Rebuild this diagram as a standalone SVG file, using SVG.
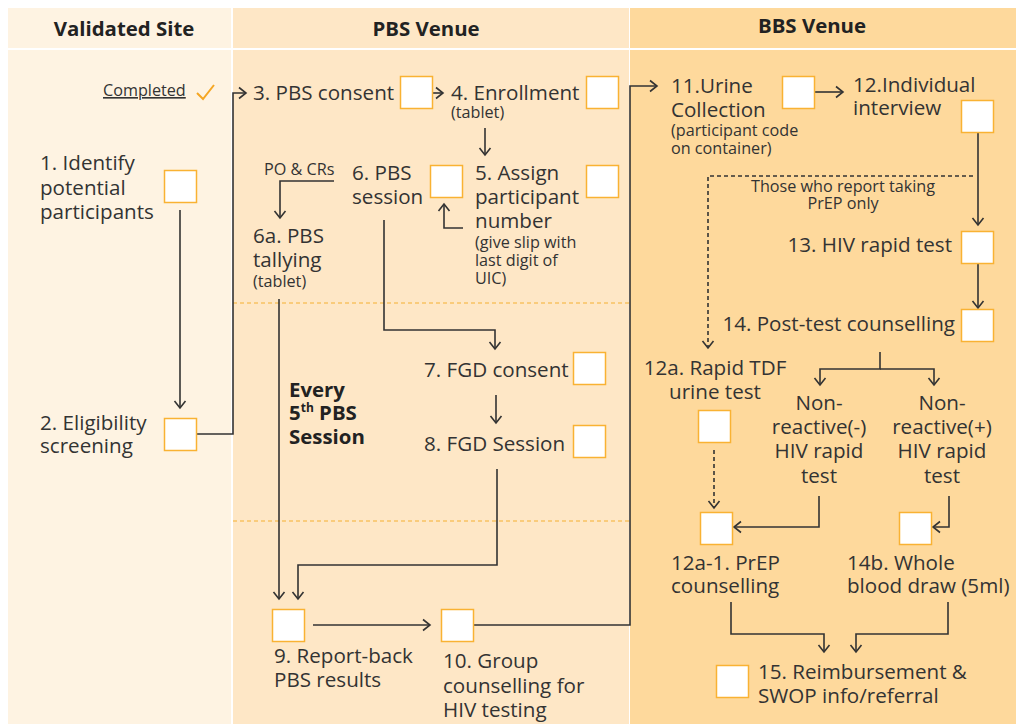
<svg xmlns="http://www.w3.org/2000/svg" width="1016" height="724" viewBox="0 0 1016 724">
<style>
text{font-family:"Open Sans","Noto Sans","Liberation Sans",sans-serif;fill:#333}
.t{font-size:20.6px}
.s{font-size:16.2px}
.h{font-size:20.4px;font-weight:bold;fill:#222}
.b{font-size:20.4px;font-weight:bold;fill:#222}
.box{fill:#fff;stroke:#f9b233;stroke-width:1.5}
.c{fill:none;stroke:#333;stroke-width:1.6}
.d{fill:none;stroke:#333;stroke-width:1.6;stroke-dasharray:4 3}
.sep{stroke:#f5b031;stroke-width:1;stroke-dasharray:4 3}
</style>
<defs>
<marker id="a" markerUnits="userSpaceOnUse" markerWidth="14" markerHeight="14" refX="10" refY="7" orient="auto">
<path d="M3,1.5 L10,7 L3,12.5" fill="none" stroke="#333" stroke-width="1.6"/>
</marker>
</defs>
<rect x="0" y="0" width="1016" height="724" fill="#fff"/>
<rect x="8" y="8" width="223" height="40" fill="#fef3e2"/>
<rect x="8" y="50" width="223" height="674" fill="#fef3e2"/>
<rect x="233" y="8" width="396" height="40" fill="#fee7c6"/>
<rect x="233" y="50" width="396" height="674" fill="#fee7c6"/>
<rect x="630" y="8" width="386" height="40" fill="#fed99c"/>
<rect x="630" y="50" width="386" height="674" fill="#fed99c"/>
<line class="sep" x1="233" y1="303" x2="629" y2="303"/>
<line class="sep" x1="233" y1="521" x2="629" y2="521"/>
<text class="h" x="124" y="36" text-anchor="middle">Validated Site</text>
<text class="h" x="426" y="36" text-anchor="middle">PBS Venue</text>
<text class="h" x="812" y="33" text-anchor="middle">BBS Venue</text>

<g id="connectors">
<path class="c" d="M180,210 V408" marker-end="url(#a)"/>
<path class="c" d="M197,434 H233 V93 H246" marker-end="url(#a)"/>
<path class="c" d="M432,93 H443" marker-end="url(#a)"/>
<path class="c" d="M485,128 V155" marker-end="url(#a)"/>
<path class="c" d="M463,228 H444 V204" marker-end="url(#a)"/>
<path class="c" d="M334,181 H280 V218" marker-end="url(#a)"/>
<path class="c" d="M384,220 V330 H495 V349" marker-end="url(#a)"/>
<path class="c" d="M496,395 V423" marker-end="url(#a)"/>
<path class="c" d="M497,469 V565 H298 V599" marker-end="url(#a)"/>
<path class="c" d="M279,299 V599" marker-end="url(#a)"/>
<path class="c" d="M313,625 H430" marker-end="url(#a)"/>
<path class="c" d="M474,625 H630 V86 H657" marker-end="url(#a)"/>
<path class="c" d="M814,92 H843" marker-end="url(#a)"/>
<path class="c" d="M978,132 V225" marker-end="url(#a)"/>
<path class="c" d="M978,263 V308" marker-end="url(#a)"/>
<path class="d" d="M973,176 H708 V348" marker-end="url(#a)"/>
<path class="c" d="M880,352 V369 H820 V385" marker-end="url(#a)"/>
<path class="c" d="M880,369 H934 V385" marker-end="url(#a)"/>
<path class="d" d="M714,450 V508" marker-end="url(#a)"/>
<path class="c" d="M819,496 V527 H734" marker-end="url(#a)"/>
<path class="c" d="M949,496 V527 H933" marker-end="url(#a)"/>
<path class="c" d="M731,602 V634 H824 V652" marker-end="url(#a)"/>
<path class="c" d="M948,602 V634 H856 V652" marker-end="url(#a)"/>
</g>

<g id="completed">
<text class="s" x="103" y="96" text-decoration="underline">Completed</text>
<path d="M197,93 L203,99 L214,85" fill="none" stroke="#f5a623" stroke-width="2"/>
</g>
<g id="n1">
<text class="t" x="40" y="170">1. Identify<tspan x="40" dy="25">potential</tspan><tspan x="40" dy="24">participants</tspan></text>
<rect class="box" x="164.5" y="170.5" width="32" height="32"/>
</g>
<g id="n2">
<text class="t" x="40" y="430">2. Eligibility<tspan x="40" dy="23">screening</tspan></text>
<rect class="box" x="164.5" y="418.5" width="32" height="32"/>
</g>
<g id="n3">
<text class="t" x="253" y="100">3. PBS consent</text>
<rect class="box" x="400.5" y="76.5" width="32" height="32"/>
</g>
<g id="n4">
<text class="t" x="451" y="100">4. Enrollment<tspan class="s" x="451" dy="18">(tablet)</tspan></text>
<rect class="box" x="586.5" y="76.5" width="32" height="32"/>
</g>
<g id="n5">
<text class="t" x="475" y="180">5. Assign<tspan x="475" dy="24">participant</tspan><tspan x="475" dy="24">number</tspan><tspan class="s" x="475" dy="20">(give slip with</tspan><tspan class="s" x="475" dy="18">last digit of</tspan><tspan class="s" x="475" dy="18">UIC)</tspan></text>
<rect class="box" x="586.5" y="165.5" width="32" height="32"/>
</g>
<g id="n6">
<text class="t" x="352" y="180">6. PBS<tspan x="352" dy="24">session</tspan></text>
<rect class="box" x="430.5" y="165.5" width="32" height="32"/>
</g>
<g id="n6a">
<text class="s" x="264" y="175">PO &amp; CRs</text>
<text class="t" x="253" y="243">6a. PBS<tspan x="253" dy="24">tallying</tspan><tspan class="s" x="253" dy="20">(tablet)</tspan></text>
</g>
<g id="n7">
<text class="t" x="424" y="377">7. FGD consent</text>
<rect class="box" x="573.5" y="352.5" width="32" height="32"/>
</g>
<g id="n8">
<text class="t" x="424" y="451">8. FGD Session</text>
<rect class="box" x="573.5" y="425.5" width="32" height="32"/>
</g>
<g id="every">
<text class="b" x="289" y="397">Every<tspan x="289" dy="23">5</tspan><tspan font-size="12" dy="-8">th</tspan><tspan dy="8"> PBS</tspan><tspan x="289" dy="24">Session</tspan></text>
</g>
<g id="n9">
<rect class="box" x="272.5" y="609.5" width="32" height="32"/>
<text class="t" x="274" y="663">9. Report-back<tspan x="274" dy="24">PBS results</tspan></text>
</g>
<g id="n10">
<rect class="box" x="441.5" y="609.5" width="32" height="32"/>
<text class="t" x="443" y="668">10. Group<tspan x="443" dy="25">counselling for</tspan><tspan x="443" dy="24">HIV testing</tspan></text>
</g>
<g id="n11">
<text class="t" x="671" y="93">11.Urine<tspan x="671" dy="24">Collection</tspan><tspan class="s" x="671" dy="19">(participant code</tspan><tspan class="s" x="671" dy="18">on container)</tspan></text>
<rect class="box" x="782.5" y="76.5" width="32" height="32"/>
</g>
<g id="n12">
<text class="t" x="853" y="92">12.Individual<tspan x="853" dy="23">interview</tspan></text>
<rect class="box" x="961.5" y="100.5" width="32" height="32"/>
</g>
<g id="note">
<text class="s" x="843" y="192" text-anchor="middle">Those who report taking<tspan x="843" dy="17">PrEP only</tspan></text>
</g>
<g id="n13">
<text class="t" x="952" y="252" text-anchor="end">13. HIV rapid test</text>
<rect class="box" x="961.5" y="231.5" width="32" height="32"/>
</g>
<g id="n14">
<text class="t" x="955" y="331" text-anchor="end">14. Post-test counselling</text>
<rect class="box" x="961.5" y="309.5" width="32" height="32"/>
</g>
<g id="n12a">
<text class="t" x="715" y="375" text-anchor="middle">12a. Rapid TDF<tspan x="715" dy="24">urine test</tspan></text>
<rect class="box" x="698.5" y="410.5" width="32" height="32"/>
</g>
<g id="neg">
<text class="t" x="819" y="410" text-anchor="middle">Non-<tspan x="819" dy="24">reactive(-)</tspan><tspan x="819" dy="24">HIV rapid</tspan><tspan x="819" dy="25">test</tspan></text>
</g>
<g id="pos">
<text class="t" x="942" y="410" text-anchor="middle">Non-<tspan x="942" dy="24">reactive(+)</tspan><tspan x="942" dy="24">HIV rapid</tspan><tspan x="942" dy="25">test</tspan></text>
</g>
<g id="n12a1">
<rect class="box" x="700.5" y="512.5" width="32" height="32"/>
<text class="t" x="671" y="570">12a-1. PrEP<tspan x="671" dy="23">counselling</tspan></text>
</g>
<g id="n14b">
<rect class="box" x="899.5" y="512.5" width="32" height="32"/>
<text class="t" x="847" y="570">14b. Whole<tspan x="847" dy="23">blood draw (5ml)</tspan></text>
</g>
<g id="n15">
<rect class="box" x="716.5" y="665.5" width="32" height="32"/>
<text class="t" x="758" y="679">15. Reimbursement &amp;<tspan x="758" dy="24">SWOP info/referral</tspan></text>
</g>
</svg>
